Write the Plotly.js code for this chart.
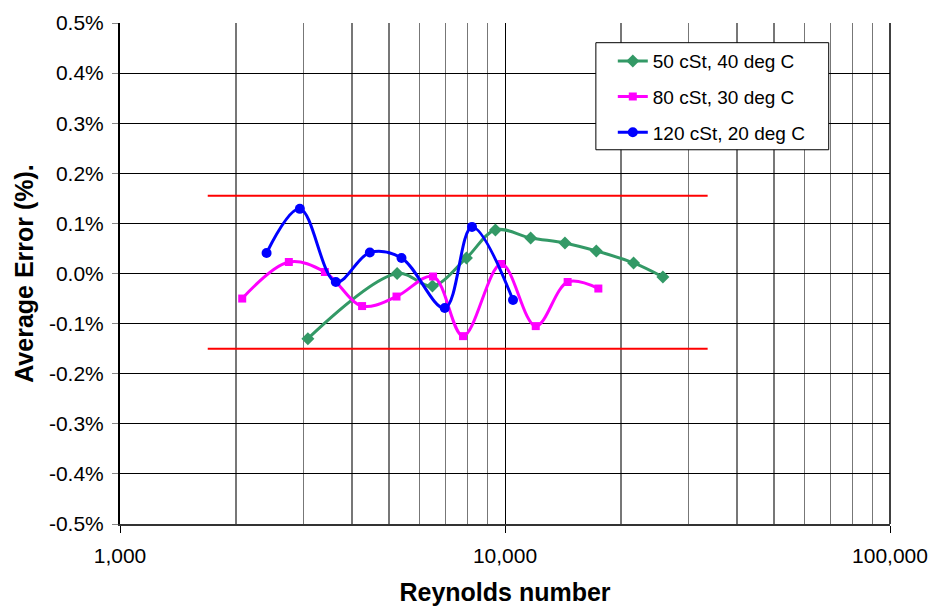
<!DOCTYPE html>
<html>
<head>
<meta charset="utf-8">
<script src="https://cdn.plot.ly/plotly-3.0.1.min.js"></script>
<style>html,body{margin:0;padding:0;background:#fff;}#chart{width:931px;height:611px;}</style>
</head>
<body>
<div id="chart"></div>
<script>
// Reynolds number / average error (%)
const reGreen = [3076, 5245, 6480, 7940, 9443, 11659, 14311, 17268, 21577, 25705];
const errGreen = [-0.130, 0.000, -0.025, 0.031, 0.087, 0.071, 0.061, 0.045, 0.021, -0.007];

const reMagenta = [2077, 2745, 3405, 4254, 5226, 6504, 7780, 9786, 12018, 14545, 17477];
const errMagenta = [-0.050, 0.023, 0.003, -0.065, -0.046, -0.006, -0.125, 0.019, -0.105, -0.017, -0.030];

const reBlue = [2403, 2932, 3636, 4456, 5385, 6975, 8208, 10490];
const errBlue = [0.041, 0.129, -0.017, 0.042, 0.031, -0.069, 0.093, -0.053];

const limitRe = [1690, 33600];
const upperLimit = [0.155, 0.155];
const lowerLimit = [-0.150, -0.150];

const seriesNames = ['50 cSt, 40 deg C', '80 cSt, 30 deg C', '120 cSt, 20 deg C'];
const xTickVals = [1000, 10000, 100000];
const xTickText = ['1,000', '10,000', '100,000'];
const xMinorVals = [2000, 3000, 4000, 5000, 6000, 7000, 8000, 9000, 20000, 30000, 40000, 50000, 60000, 70000, 80000, 90000];
const yTickVals = [-0.5, -0.4, -0.3, -0.2, -0.1, 0, 0.1, 0.2, 0.3, 0.4, 0.5];
const yTickText = ['-0.5%', '-0.4%', '-0.3%', '-0.2%', '-0.1%', '0.0%', '0.1%', '0.2%', '0.3%', '0.4%', '0.5%'];

const FONT = 'Arial, "Liberation Sans", sans-serif';

const traces = [
  {x: limitRe, y: upperLimit, mode: 'lines', line: {color: '#FF0000', width: 2}, showlegend: false, hoverinfo: 'skip'},
  {x: limitRe, y: lowerLimit, mode: 'lines', line: {color: '#FF0000', width: 2}, showlegend: false, hoverinfo: 'skip'},
  {x: reGreen, y: errGreen, name: seriesNames[0], legendgroup: 'g', mode: 'lines+markers',
   line: {color: '#339966', width: 3, shape: 'spline', smoothing: 1},
   marker: {symbol: 'diamond', size: 10, color: '#339966'}},
  {x: reMagenta, y: errMagenta, name: seriesNames[1], legendgroup: 'm', mode: 'lines+markers',
   line: {color: '#FF00FF', width: 3, shape: 'spline', smoothing: 1},
   marker: {symbol: 'square', size: 8, color: '#FF00FF'}},
  {x: reBlue, y: errBlue, name: seriesNames[2], legendgroup: 'b', mode: 'lines+markers',
   line: {color: '#0000FF', width: 3, shape: 'spline', smoothing: 1},
   marker: {symbol: 'circle', size: 10, color: '#0000FF'}}
];

const layout = {
  width: 931, height: 611,
  margin: {l: 120, r: 41, t: 23, b: 87},
  paper_bgcolor: '#fff', plot_bgcolor: '#fff',
  font: {family: FONT, size: 19, color: '#000'},
  showlegend: true,
  legend: {
    x: 0.64, y: 0.962, xanchor: 'left', yanchor: 'top',
    bgcolor: 'rgba(0,0,0,0)', borderwidth: 0,
    font: {family: FONT, size: 19, color: '#000'},
    traceorder: 'grouped', tracegroupgap: 8
  },
  xaxis: {
    type: 'log', range: [3, 5],
    tickmode: 'array', tickvals: xTickVals, ticktext: xTickText,
    ticks: 'outside', ticklen: 7, tickcolor: '#000', tickwidth: 1,
    showgrid: true, gridcolor: '#000', gridwidth: 1,
    showline: true, linecolor: '#333', linewidth: 1.5,
    zeroline: false,
    tickfont: {family: FONT, size: 21, color: '#000'},
    ticklabelstandoff: 5,
    minor: {tickmode: 'array', tickvals: xMinorVals, showgrid: true, gridcolor: '#777', gridwidth: 1.5, ticks: ''},
    title: {text: 'Reynolds number', font: {family: FONT, size: 25, color: '#000', weight: 'bold'}, standoff: 18}
  },
  yaxis: {
    range: [-0.5, 0.5],
    tickmode: 'array', tickvals: yTickVals, ticktext: yTickText,
    ticks: 'outside', ticklen: 6, tickcolor: '#888', tickwidth: 1,
    showgrid: true, gridcolor: '#000', gridwidth: 1,
    showline: true, linecolor: '#000', linewidth: 2,
    zeroline: false,
    tickfont: {family: FONT, size: 21, color: '#000'},
    ticklabelstandoff: 4,
    title: {text: 'Average Error (%).', font: {family: FONT, size: 25, color: '#000', weight: 'bold'}, standoff: 8}
  },
  shapes: [
    {type: 'rect', xref: 'paper', yref: 'paper', x0: 0.618, x1: 0.9204, y0: 0.747, y1: 0.9607,
     line: {color: '#000', width: 1}, fillcolor: '#fff', layer: 'above'},
    {type: 'line', xref: 'paper', yref: 'paper', x0: 1, x1: 1, y0: 0, y1: 1, line: {color: '#000', width: 1.5}, layer: 'above'}
  ]
};

Plotly.newPlot('chart', traces, layout, {displayModeBar: false, staticPlot: true});
</script>
</body>
</html>
